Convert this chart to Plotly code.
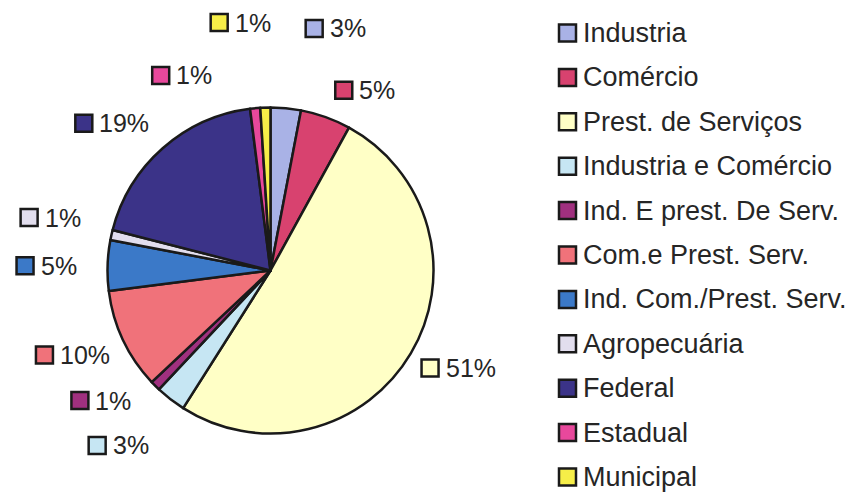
import math
import plotly.graph_objects as go

# Category names, shares (%) and slice colours
categories = [
    "Industria", "Comércio", "Prest. de Serviços", "Industria e Comércio",
    "Ind. E prest. De Serv.", "Com.e Prest. Serv.", "Ind. Com./Prest. Serv.",
    "Agropecuária", "Federal", "Estadual", "Municipal",
]
shares = [3, 5, 51, 3, 1, 10, 5, 1, 19, 1, 1]
colors = [
    "#A9B2E6", "#D8426F", "#FFFFC6", "#C6E6F3", "#A0307F", "#F0727A",
    "#3B79C8", "#E2DEEE", "#3B3388", "#E8489C", "#F6EE48",
]

W, H = 854, 498
FONT = "Arial, Liberation Sans, sans-serif"
TEXT_COLOR = "#262626"

# Pie geometry (pixels)
CX, CY, R = 270.5, 270.5, 163
LABEL_R = 215
# per-label offsets (px) that keep the outside labels clear of each other
label_nudge = [
    (44, -28), (21, 22), (2, -12), (-21, 5), (-18, -22), (-4, -7),
    (-10, 2), (-11, -6), (-17, 14), (-69, 19), (-24, -33),
]


def px(x):
    return x / W


def py(y):
    return 1 - y / H


fig = go.Figure(go.Pie(
    labels=categories,
    values=shares,
    sort=False,
    direction="clockwise",
    rotation=0,
    marker=dict(colors=colors, line=dict(color="#1a1a1a", width=2.5)),
    textinfo="none",
    hoverinfo="label+percent",
    showlegend=False,
    domain=dict(x=[px(CX - R), px(CX + R)], y=[py(CY + R), py(CY - R)]),
))

shapes = []
annotations = []

# Outside percentage labels, placed along each slice's mid angle
total = sum(shares)
cum = 0
for i, v in enumerate(shares):
    mid = (cum + v / 2) / total * 2 * math.pi
    cum += v
    pct = f"{round(v / total * 100)}%"
    lx = CX + LABEL_R * math.sin(mid) + label_nudge[i][0]
    ly = CY - LABEL_R * math.cos(mid) + label_nudge[i][1]
    fs = 25
    text_w = fs * (0.556 * (len(pct) - 1) + 0.889)
    sq = 17
    gap = 5
    group_w = sq + gap + text_w
    left = lx - group_w / 2
    shapes.append(dict(
        type="rect", xref="paper", yref="paper",
        x0=px(left), x1=px(left + sq), y0=py(ly + sq / 2), y1=py(ly - sq / 2),
        fillcolor=colors[i], line=dict(color="#1a1a1a", width=2.5),
    ))
    annotations.append(dict(
        xref="paper", yref="paper", x=px(left + sq + gap), y=py(ly),
        xanchor="left", yanchor="middle", showarrow=False, text=pct,
        font=dict(family=FONT, size=fs, color=TEXT_COLOR),
    ))

# Legend column on the right
LEG_X, LEG_Y0, LEG_DY, LEG_SQ = 559, 33, 44.4, 17
for i, name in enumerate(categories):
    yc = LEG_Y0 + i * LEG_DY
    shapes.append(dict(
        type="rect", xref="paper", yref="paper",
        x0=px(LEG_X), x1=px(LEG_X + LEG_SQ),
        y0=py(yc + LEG_SQ / 2), y1=py(yc - LEG_SQ / 2),
        fillcolor=colors[i], line=dict(color="#1a1a1a", width=2.5),
    ))
    annotations.append(dict(
        xref="paper", yref="paper", x=px(LEG_X + LEG_SQ + 5), y=py(yc),
        xanchor="left", yanchor="middle", showarrow=False, text=name,
        font=dict(family=FONT, size=27, color=TEXT_COLOR),
    ))

fig.update_layout(
    width=W, height=H,
    margin=dict(l=0, r=0, t=0, b=0),
    paper_bgcolor="white", plot_bgcolor="white",
    shapes=shapes, annotations=annotations,
)

fig.write_html("out.html")
